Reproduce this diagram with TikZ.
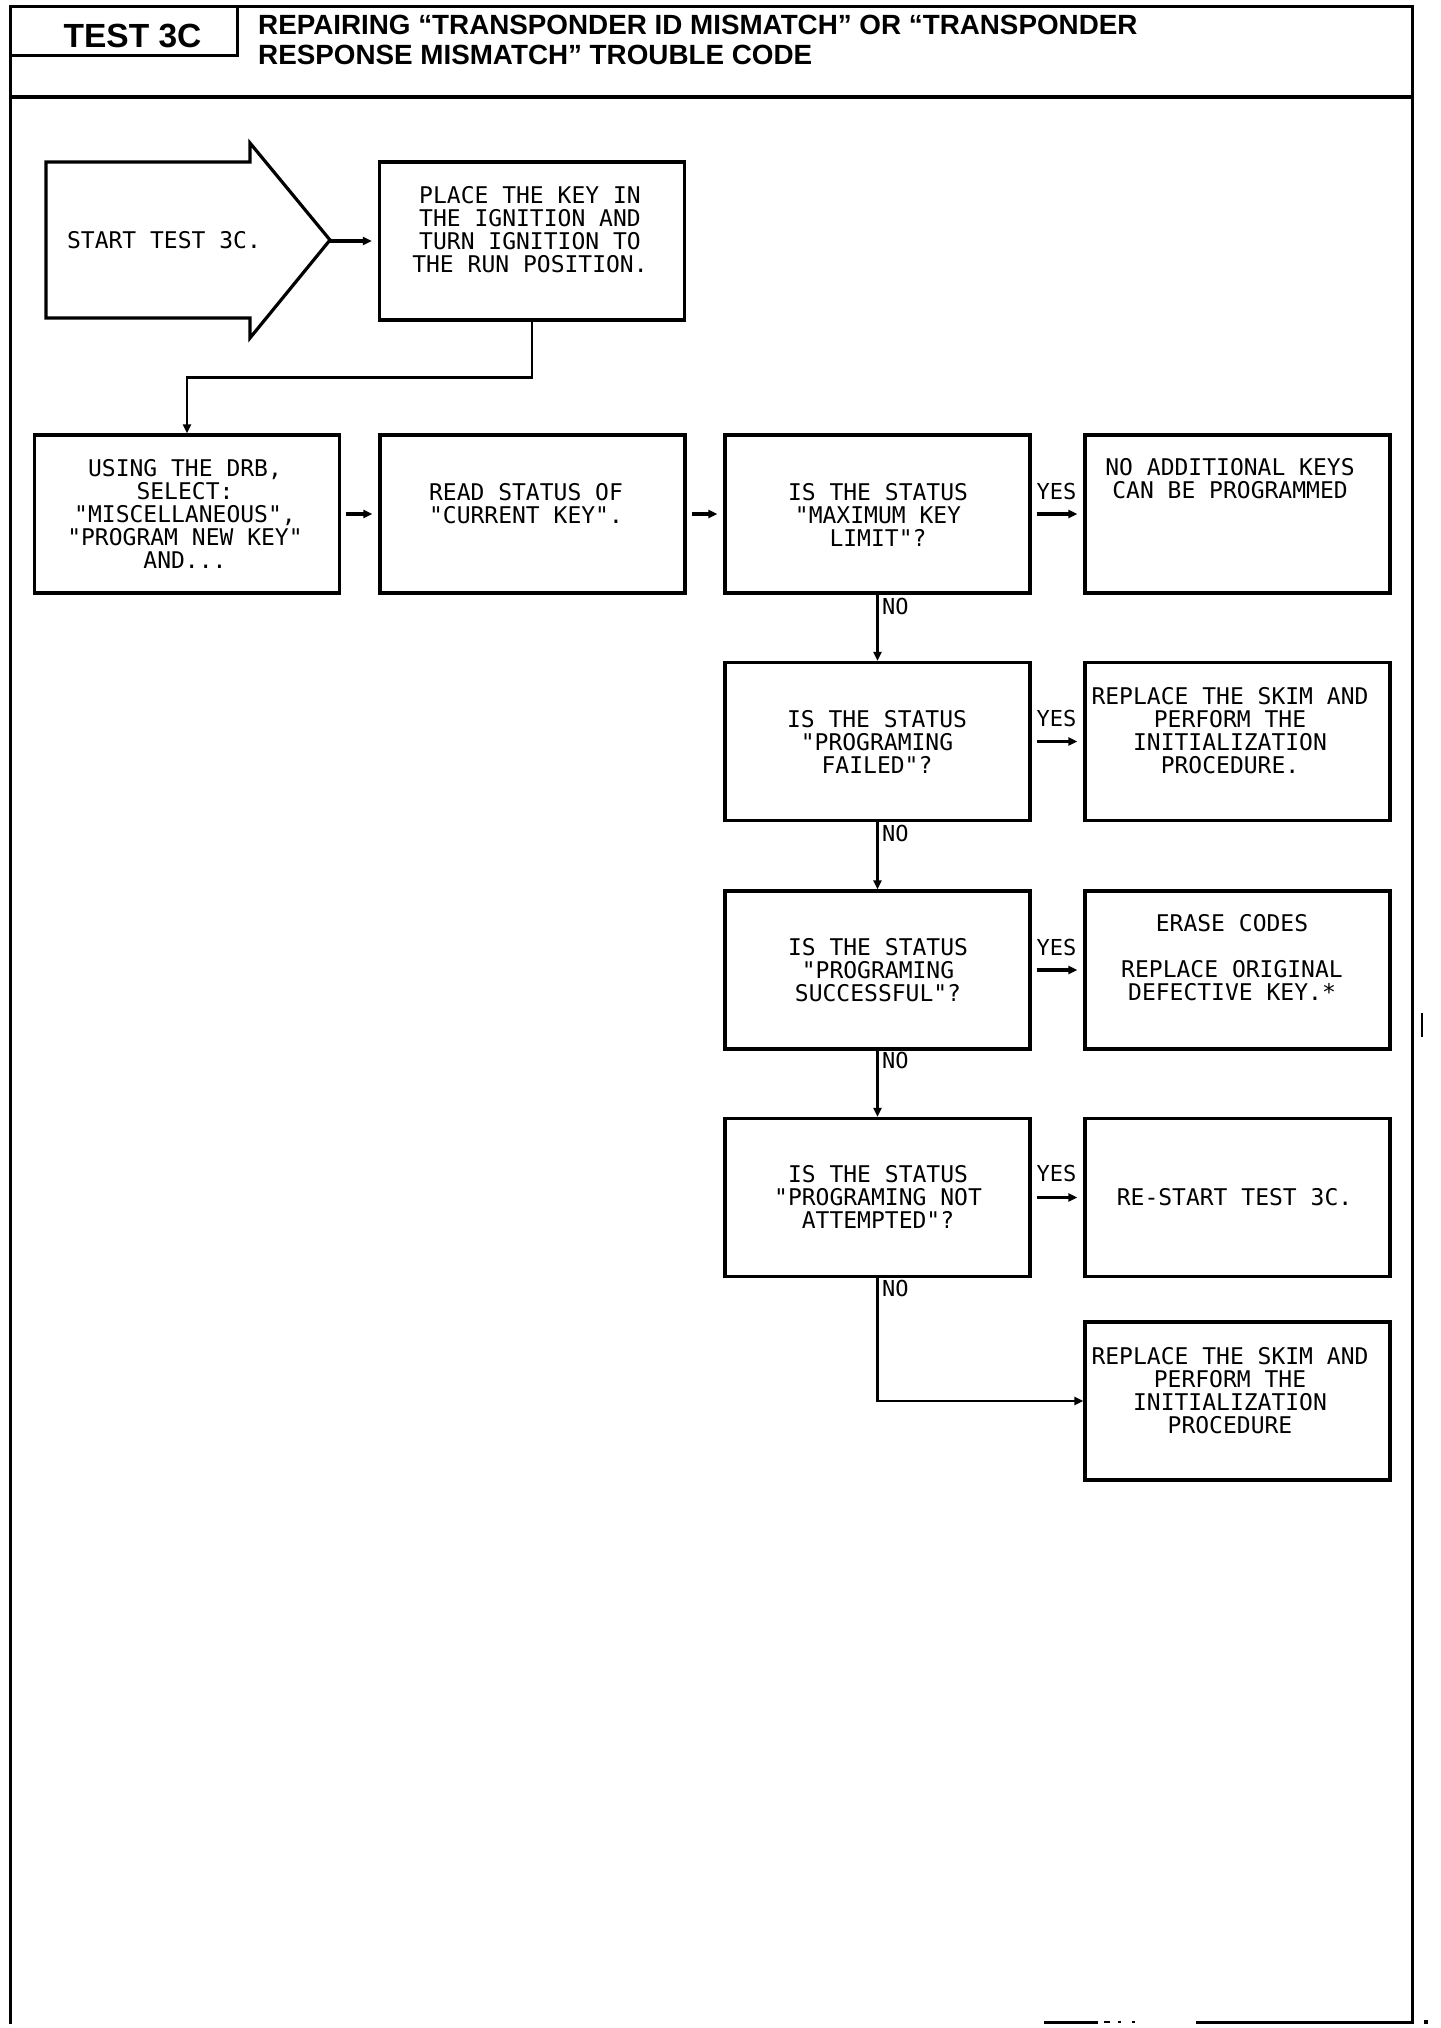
\documentclass[tikz,border=0pt]{standalone}
\usepackage{fontspec}
\newfontfamily\plotfont{DejaVu Sans Mono}
\newfontfamily\headfont{Liberation Sans}
\usetikzlibrary{arrows.meta}
\tikzset{
  box/.style={draw, line width=3.4pt, minimum width=305pt, minimum height=158pt, inner sep=0pt},
  txt/.style={font=\plotfont\fontsize{23}{23}\selectfont, align=center, inner sep=0pt},
  lbl/.style={font=\plotfont\fontsize{22}{22}\selectfont, inner sep=0pt},
  head/.style={font=\headfont\bfseries\fontsize{27.8}{30}\selectfont, inner sep=0pt},
  flow/.style={line width=3.2pt, -{Triangle[length=9pt,width=8pt]}, shorten <=5pt, shorten >=6pt},
  vflow/.style={line width=2.6pt, -{Triangle[length=9pt,width=8pt]}},
  frame/.style={line width=3pt},
}
\begin{document}
\begin{tikzpicture}[x=1pt,y=-1pt]
\useasboundingbox (0,0) rectangle (1440,2028);
% frame
\draw[frame] (10,2024) -- (10,7) -- (1412,7) -- (1412,2022) -- (1196,2022);
\draw[frame] (1044,2022) -- (1098,2022);
\draw[line width=2pt] (1104,2022) -- (1110,2022) (1118,2022) -- (1121,2022) (1132,2022) -- (1135,2022);
\fill (1424,2020) rectangle (1428,2024);
\draw[line width=2pt] (1422,1013) -- (1422,1037);
\draw[line width=3.4pt] (10,97) -- (1412,97);
\draw[frame] (10,56) -- (237,56) -- (237,7);
% header
\node[font=\headfont\bfseries\fontsize{33.5}{36}\selectfont, inner sep=0pt, anchor=base] (testno) at (132.5,48) {TEST 3C};
\node[head, anchor=base west] (title1) at (258,35) {REPAIRING “TRANSPONDER ID MISMATCH” OR “TRANSPONDER};
\node[head, anchor=base west] (title2) at (258,65) {RESPONSE MISMATCH” TROUBLE CODE};
% start arrow
\draw[line width=3.2pt, line join=miter] (46,162) -- (250,162) -- (250,143) -- (330,240) -- (250,338) -- (250,318) -- (46,318) -- cycle;
\coordinate (starttip) at (330,241);
\node[txt] (tS) at (164,240) {START TEST 3C.};
% boxes
\node[box] (P) at (532,241) {};
\node[box] (A) at (187,514) {};
\node[box] (B) at (532.5,514) {};
\node[box] (C) at (877.5,514) {};
\node[box] (D) at (1237.5,514) {};
\node[box] (E) at (877.5,741.5) {};
\node[box] (F) at (1237.5,741.5) {};
\node[box] (G) at (877.5,970) {};
\node[box] (H) at (1237.5,970) {};
\node[box] (I) at (877.5,1197.5) {};
\node[box] (J) at (1237.5,1197.5) {};
\node[box] (K) at (1237.5,1401) {};
% texts
\node[txt] (tP) at (530,229.5) {PLACE THE KEY IN\\THE IGNITION AND\\TURN IGNITION TO\\THE RUN POSITION.};
\node[txt] (tA) at (185,514) {USING THE DRB,\\SELECT:\\"MISCELLANEOUS",\\"PROGRAM NEW KEY"\\AND...};
\node[txt] (tB) at (526,503.5) {READ STATUS OF\\"CURRENT KEY".};
\node[txt] (tC) at (878,514.5) {IS THE STATUS\\"MAXIMUM KEY\\LIMIT"?};
\node[txt] (tD) at (1230,479) {NO ADDITIONAL KEYS\\CAN BE PROGRAMMED};
\node[txt] (tE) at (877,742) {IS THE STATUS\\"PROGRAMING\\FAILED"?};
\node[txt] (tF) at (1230,731) {REPLACE THE SKIM AND\\PERFORM THE\\INITIALIZATION\\PROCEDURE.};
\node[txt] (tG) at (878,970) {IS THE STATUS\\"PROGRAMING\\SUCCESSFUL"?};
\node[txt] (tH) at (1232,957.5) {ERASE CODES\\\mbox{}\\REPLACE ORIGINAL\\DEFECTIVE KEY.*};
\node[txt] (tI) at (878,1196.5) {IS THE STATUS\\"PROGRAMING NOT\\ATTEMPTED"?};
\node[txt] (tJ) at (1234.5,1197) {RE-START TEST 3C.};
\node[txt] (tK) at (1230,1391) {REPLACE THE SKIM AND\\PERFORM THE\\INITIALIZATION\\PROCEDURE};
% connectors
\draw[flow, shorten <=0pt] (starttip) -- (starttip -| P.west);
\draw[vflow] (P.south) -- ++(0,56) -| (A.north);
\draw[flow] (A) -- (B);
\draw[flow] (B) -- (C);
\draw[flow] (C) -- (D);
\draw[flow] (E) -- (F);
\draw[flow] (G) -- (H);
\draw[flow] (I) -- (J);
\draw[vflow] (C) -- (E);
\draw[vflow] (E) -- (G);
\draw[vflow] (G) -- (I);
\draw[vflow] (I.south) |- (K.west);
% labels
\node[lbl] (y1) at (1056.5,491) {YES};
\node[lbl] (y2) at (1056.5,718) {YES};
\node[lbl] (y3) at (1056.5,947) {YES};
\node[lbl] (y4) at (1056.5,1173) {YES};
\node[lbl, anchor=west] (n1) at (882,606) {NO};
\node[lbl, anchor=west] (n2) at (882,833) {NO};
\node[lbl, anchor=west] (n3) at (882,1060) {NO};
\node[lbl, anchor=west] (n4) at (882,1288) {NO};
\end{tikzpicture}
\end{document}
